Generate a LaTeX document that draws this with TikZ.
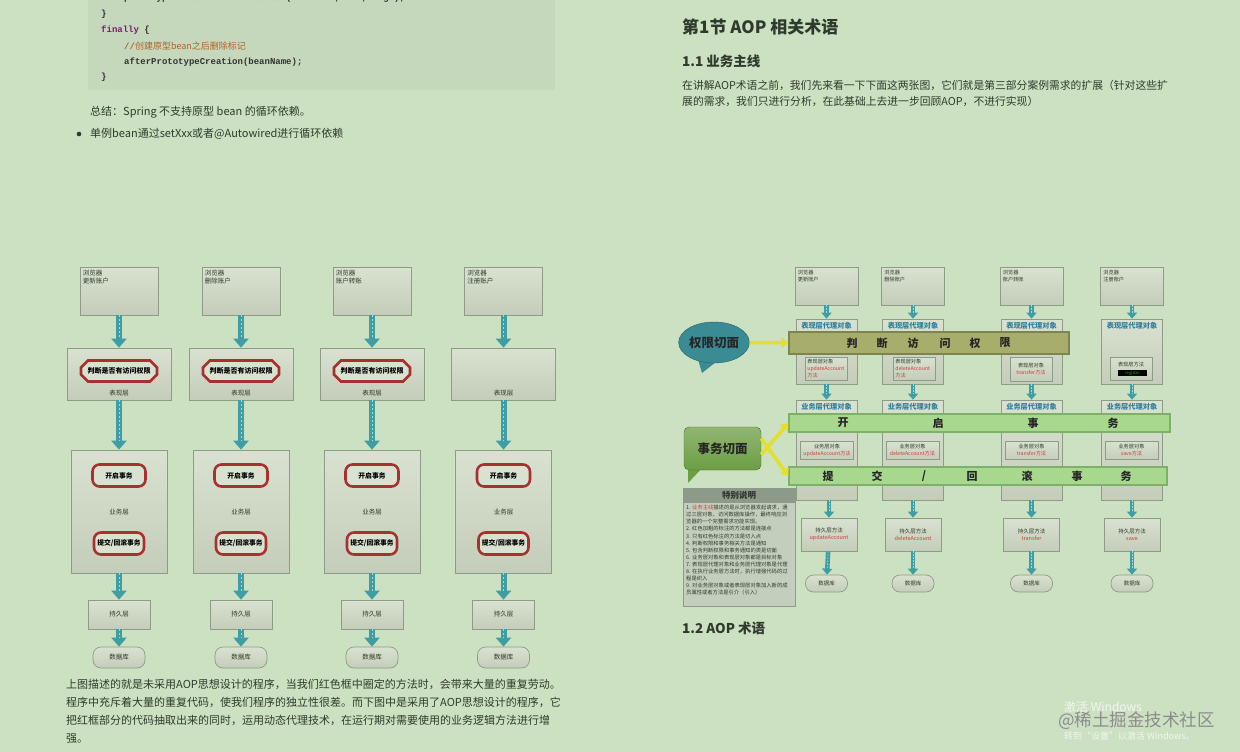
\documentclass[tikz,border=0pt]{standalone}
\usepackage{fontspec}
\setmainfont{Noto Sans CJK SC}
\setmonofont{Liberation Mono}
\usepackage{tikz}
\usetikzlibrary{arrows.meta,positioning,shapes.geometric,shapes.misc}

\definecolor{pagebg}{HTML}{CCE0C2}
\definecolor{codebg}{HTML}{C5D8BB}
\definecolor{boxtop}{HTML}{D9E2D0}
\definecolor{boxbot}{HTML}{C3CDB9}
\definecolor{boxline}{HTML}{8C9C86}
\definecolor{alarmred}{HTML}{A8302E}
\definecolor{flowteal}{HTML}{3F9EA3}
\definecolor{flowlight}{HTML}{A6D8D6}
\definecolor{permolive}{HTML}{A7AD6A}
\definecolor{permedge}{HTML}{7D8450}
\definecolor{txgreen}{HTML}{A8D78E}
\definecolor{txedge}{HTML}{7DB068}
\definecolor{bubbleteal}{HTML}{3A8B93}
\definecolor{bubblegreen}{HTML}{6C9E44}
\definecolor{hintyellow}{HTML}{E3DF2A}
\definecolor{proxyblue}{HTML}{2F7F9C}
\definecolor{methodred}{HTML}{D23A3A}
\definecolor{inktext}{HTML}{2F3A2C}
\definecolor{keyword}{HTML}{7A1F6E}
\definecolor{remark}{HTML}{B0642A}
\definecolor{notehead}{HTML}{8D9A89}
\definecolor{notebody}{HTML}{C4CEBD}

\newcommand{\pxfont}[2]{\fontsize{#1pt}{#2pt}\selectfont}

\begin{document}
\begin{tikzpicture}[
    x=1pt, y=-1pt,
    layer/.style={
        draw=boxline,
        line width=0.7pt,
        top color=boxtop,
        bottom color=boxbot,
        inner sep=0pt
    },
    tag/.style={inner sep=0pt, text=inktext, font=\pxfont{6.5}{8}},
    prose/.style={inner sep=0pt, anchor=west, text=inktext, font=\pxfont{11}{18}},
    codeline/.style={inner sep=0pt, anchor=west, text=black!80, font=\ttfamily\bfseries\pxfont{9}{9}},
    octo/.style={
        chamfered rectangle,
        chamfered rectangle xsep=6pt,
        draw=alarmred,
        line width=2.6pt,
        fill=boxtop,
        minimum width=76pt,
        minimum height=21pt,
        inner sep=0pt,
        font=\bfseries\pxfont{7}{7}
    },
    redround/.style={
        draw=alarmred,
        line width=2.6pt,
        fill=boxtop,
        rounded corners=7pt,
        minimum height=22pt,
        inner sep=0pt,
        font=\bfseries\pxfont{6.8}{7}
    },
    pill/.style={layer, rounded corners=8pt, font=\pxfont{6.5}{7}},
    flow/.style={
        draw=flowteal,
        line width=6pt,
        -{Triangle[width=15pt,length=9pt]},
        postaction={draw=flowlight, line width=0.8pt, dash pattern=on 2pt off 2pt, arrows=-, shorten >=9pt}
    },
    smallflow/.style={
        draw=flowteal,
        line width=4.5pt,
        -{Triangle[width=10pt,length=6pt]},
        postaction={draw=flowlight, line width=0.6pt, dash pattern=on 1.5pt off 1.5pt, arrows=-, shorten >=6pt}
    },
    hint/.style={draw=hintyellow, line width=3.5pt, -{Triangle[width=10pt,length=7pt]}},
    band/.style={minimum height=18pt, inner sep=0pt, line width=1.2pt},
    bandchar/.style={inner sep=0pt, text=black!85, font=\bfseries\pxfont{11}{11}},
    small/.style={inner sep=0pt, align=center, text=inktext, font=\pxfont{5.2}{7}}
]
\useasboundingbox (0,0) rectangle (1240,752);
\fill[pagebg] (0,0) rectangle (1240,752);

% ---------- left page, top ----------
\fill[codebg, rounded corners=2pt] (88,-6) rectangle (555,90);
\node[codeline] (code0) at (124,-2) {prototypeInstance = createBean(beanName, mbd, args);};
\node[codeline] (code1) at (101,14) {\}};
\node[codeline] (code2) at (101,30) {{\color{keyword}finally} \{};
\node[codeline, text=remark] (code3) at (124,46) {//{\rmfamily\mdseries 创建原型bean之后删除标记}};
\node[codeline] (code4) at (124,62) {afterPrototypeCreation(beanName);};
\node[codeline] (code5) at (101,77) {\}};

\node[prose] (summary) at (90,112) {总结：Spring 不支持原型 bean 的循环依赖。};
\fill[inktext] (79,134) circle (2.3pt);
\node[prose] (single) at (90,134) {单例bean通过setXxx或者@Autowired进行循环依赖};

% ---------- right page, top ----------
\node[prose, font=\bfseries\pxfont{17}{17}] (sect) at (682,27) {第1节 AOP 相关术语};
\node[prose, font=\bfseries\pxfont{13.5}{14}] (line11) at (682,61) {1.1 业务主线};
\node[prose, font=\pxfont{10.8}{16}, anchor=north west, align=left] (intro) at (682,80.5)
    {在讲解AOP术语之前，我们先来看一下下面这两张图，它们就是第三部分案例需求的扩展（针对这些扩\\展的需求，我们只进行分析，在此基础上去进一步回顾AOP，不进行实现）};

% ---------- left diagram: without AOP ----------
\foreach \i/\cx/\acct in {1/119/更新账户,2/241/删除账户,3/372/账户转账,4/503.5/注册账户}{
    \node[layer, minimum width=78pt, minimum height=48pt] (lbr\i) at (\cx,291) {};
    \node[tag, align=left, anchor=north west] (lbrt\i) at ([shift={(3pt,-3pt)}]lbr\i.north west) {浏览器\\\acct};
    \node[layer, minimum width=104pt, minimum height=52pt] (lpr\i) at (\cx,374) {};
    \ifnum\i<4
        \node[octo] (loct\i) at (\cx,371) {判断是否有访问权限};
    \fi
    \node[tag] (lprt\i) at (\cx,393) {表现层};
    \node[layer, minimum width=96pt, minimum height=123pt] (lbz\i) at (\cx,511.5) {};
    \node[redround, minimum width=53pt] (lopen\i) at (\cx,475.5) {开启事务};
    \node[tag] (lbzt\i) at (\cx,512) {业务层};
    \node[redround, minimum width=50pt] (lend\i) at (\cx,543.5) {提交/回滚事务};
    \node[layer, minimum width=62pt, minimum height=29pt, font=\pxfont{6.5}{7}, text=inktext] (lps\i) at (\cx,614.5) {持久层};
    \node[pill, minimum width=52pt, minimum height=21pt, text=inktext] (ldb\i) at (\cx,657.5) {数据库};
    \draw[flow] (lbr\i) -- (lpr\i);
    \draw[flow] (lpr\i) -- (lbz\i);
    \draw[flow] (lbz\i) -- (lps\i);
    \draw[flow] (lps\i) -- (ldb\i);
}

\node[prose, anchor=north west, align=left] (verdict) at (66,679)
    {上图描述的就是未采用AOP思想设计的程序，当我们红色框中圈定的方法时，会带来大量的重复劳动。\\
     程序中充斥着大量的重复代码，使我们程序的独立性很差。而下图中是采用了AOP思想设计的程序，它\\
     把红框部分的代码抽取出来的同时，运用动态代理技术，在运行期对需要使用的业务逻辑方法进行增\\
     强。};

% ---------- right diagram: with AOP ----------
\foreach \i/\cx/\acct in {1/826.5/更新账户,2/913/删除账户,3/1031.5/账户转账,4/1132/注册账户}{
    \node[layer, minimum width=63pt, minimum height=38pt] (rbr\i) at (\cx,286) {};
    \node[tag, align=left, anchor=north west, font=\pxfont{5.2}{7}] (rbrt\i) at ([shift={(3pt,-3pt)}]rbr\i.north west) {浏览器\\\acct};
    \node[layer, minimum width=61pt, minimum height=65pt] (rpr\i) at (\cx,351.5) {};
    \node[tag, text=proxyblue, font=\bfseries\pxfont{7.2}{8}] (rprt\i) at (\cx,325.5) {表现层代理对象};
    \node[layer, minimum width=61pt, minimum height=100pt] (rbz\i) at (\cx,450) {};
    \node[tag, text=proxyblue, font=\bfseries\pxfont{7.2}{8}] (rbzt\i) at (\cx,406.5) {业务层代理对象};
    \node[layer, minimum width=42pt, minimum height=17pt, pill] (rdb\i) at (\cx,583.5) {};
    \node[small, font=\pxfont{5.5}{6}] (rdbt\i) at (\cx,583.5) {数据库};
    \draw[smallflow] (rbr\i) -- (rpr\i);
    \draw[smallflow] (rpr\i) -- (rbz\i);
}

% presentation objects
\node[layer, minimum width=42pt, minimum height=23pt] (rpi1) at (826.5,368.5) {};
\node[small, align=left, anchor=west] (rpit1) at ([xshift=2pt]rpi1.west) {表现层对象\\{\color{methodred}updateAccount}\\{\color{methodred}方法}};
\node[layer, minimum width=42pt, minimum height=23pt] (rpi2) at (914.5,368.5) {};
\node[small, align=left, anchor=west] (rpit2) at ([xshift=2pt]rpi2.west) {表现层对象\\{\color{methodred}deleteAccount}\\{\color{methodred}方法}};
\node[layer, minimum width=42pt, minimum height=24pt] (rpi3) at (1031,369.5) {};
\node[small] (rpit3) at (1031,369.5) {表现层对象\\{\color{methodred}transfer方法}};
\node[layer, minimum width=42pt, minimum height=23pt] (rpi4) at (1131,368.5) {};
\node[small] (rpit4) at (1131,364.5) {表现层方法};
\node[fill=black, minimum width=29pt, minimum height=6pt, inner sep=0pt, text=green!70!black, font=\pxfont{4.2}{4.2}] (rreg) at (1132.5,373) {register};

% business objects
\foreach \i/\cx/\meth in {1/827/updateAccount方法,2/912.5/deleteAccount方法,3/1031.5/transfer方法,4/1131.5/save方法}{
    \node[layer, minimum width=53pt, minimum height=18pt] (rbi\i) at (\cx,450.5) {};
    \node[small] (rbit\i) at (\cx,450.5) {业务层对象\\{\color{methodred}\meth}};
}

% persistence methods
\foreach \i/\cx/\meth in {1/829/updateAccount,2/913/deleteAccount,3/1031.5/transfer,4/1132/save}{
    \node[layer, minimum width=56pt, minimum height=33pt] (rps\i) at (\cx,534.5) {};
    \node[small, font=\pxfont{5.5}{7}] (rpst\i) at (\cx,534.5) {持久层方法\\{\color{methodred}\meth}};
}
\foreach \i in {1,2,3,4}{
    \draw[smallflow] (rbz\i.south -| rps\i) -- (rps\i);
    \draw[smallflow] (rps\i) -- (rdb\i);
}

% aspect bands
\node[band, draw=permedge, fill=permolive, minimum width=280pt, minimum height=22pt] (permband) at (929,343) {};
\foreach \ch/\px [count=\k] in {判/852,断/882,访/913,问/945,权/975,限/1005}
    \node[bandchar] (perm\k) at (\px,343) {\ch};
\node[band, draw=txedge, fill=txgreen, minimum width=381pt] (openband) at (979.5,423) {};
\foreach \ch/\px [count=\k] in {开/843,启/938,事/1033,务/1113}
    \node[bandchar] (open\k) at (\px,423) {\ch};
\node[band, draw=txedge, fill=txgreen, minimum width=378pt] (endband) at (978,476) {};
\foreach \ch/\px [count=\k] in {提/828,交/877,{/}/924,回/972,滚/1027,事/1077,务/1126}
    \node[bandchar] (end\k) at (\px,476) {\ch};

% aspect bubbles
\fill[bubbleteal] (697,356) -- (702,373) -- (716,362) -- cycle;
\node[ellipse, fill=bubbleteal, draw=bubbleteal!70!black, minimum width=60pt, minimum height=41pt, inner sep=0pt,
      font=\bfseries\pxfont{12.5}{13}, text=black!85] (permbub) at (714,342.5) {权限切面};
\fill[bubblegreen] (688,466) -- (688,483) -- (704,466) -- cycle;
\node[draw=bubblegreen!70!black, top color=bubblegreen!75!white, bottom color=bubblegreen, rounded corners=5pt,
      minimum width=77pt, minimum height=43pt, inner sep=0pt,
      font=\bfseries\pxfont{12.5}{13}, text=black!85] (txbub) at (722.5,448.5) {事务切面};
\draw[hint] (permbub) -- (permband);
\draw[hint] ([yshift=-6pt]txbub.east) -- (openband.west);
\draw[hint] ([yshift=10pt]txbub.east) -- (endband.west);

% notes
\node[draw=boxline, fill=notebody, minimum width=112pt, minimum height=118pt, inner sep=0pt] (note) at (739,547) {};
\node[fill=notehead, minimum width=112pt, minimum height=15pt, inner sep=0pt, anchor=north,
      font=\bfseries\pxfont{8.5}{9}, text=black!80] (notetitle) at (note.north) {特别说明};
\node[small, align=left, anchor=north west, font=\pxfont{5.3}{7.1}] (notetext) at (686,505)
    {1. {\color{methodred}业务主线}描述的是从浏览器发起请求，通\\
     过三层对象，访问数据库操作，最终响应浏\\
     览器的一个完整需求功能实现。\\
     2. 红色加粗的标注的方法都是连接点\\
     3. 只有红色标注的方法是切入点\\
     4. 判断权限和事务相关方法是通知\\
     5. 包含判断权限和事务通知的类是切面\\
     6. 业务层对象和表现层对象都是目标对象\\
     7. 表现层代理对象和业务层代理对象是代理\\
     8. 在执行业务层方法时，执行增强代码的过\\
     程是织入\\
     9. 对业务层对象或者表现层对象加入新的成\\
     员属性或者方法是引介（引入）};

\node[prose, font=\bfseries\pxfont{13.5}{14}] (line12) at (682,628) {1.2 AOP 术语};

% watermark
\node[prose, text=white!75!pagebg, font=\pxfont{12}{12}] (winact) at (1064,707) {激活 Windows};
\node[prose, text=black!45, font=\pxfont{17.5}{18}] (mark) at (1058,721) {@稀土掘金技术社区};
\node[prose, text=white!75!pagebg, font=\pxfont{9}{9}] (winhint) at (1064,736) {转到“设置”以激活 Windows。};
\end{tikzpicture}
\end{document}
